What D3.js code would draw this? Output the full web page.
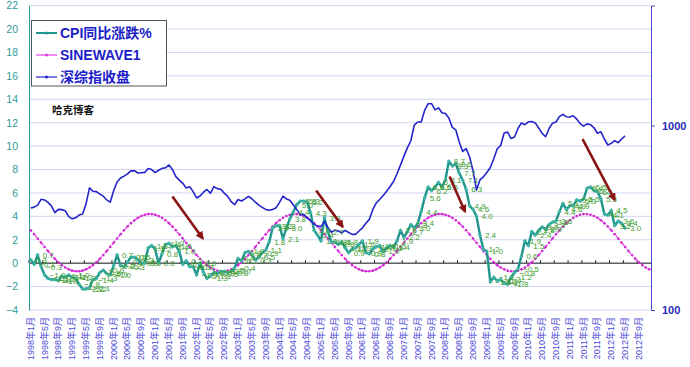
<!DOCTYPE html>
<html>
<head>
<meta charset="utf-8">
<script src="https://cdn.jsdelivr.net/npm/d3@7"></script>
<style>
  body { margin: 0; background: #fff; }
  svg { display: block; }
  .ytl text { fill: #2f9a9a; font: 10.5px "Liberation Sans", Arial, sans-serif; }
  .ytr text { fill: #2a2ab8; font: bold 11px "Liberation Sans", Arial, sans-serif; }
  .xlab { fill: #4a4ad8; font: 9px "Liberation Sans", "Noto Sans CJK SC", sans-serif; }
  .dlab { fill: #3c9c2c; font: 8px "Liberation Sans", Arial, sans-serif; }
  .legend text { fill: #1c1cc8; font: bold 14px "Liberation Sans", "Noto Sans CJK SC", sans-serif; }
</style>
</head>
<body>
<svg id="chart" width="690" height="367"></svg>
<script>
// CPI YoY % (monthly, 1998-01 .. 2012-05)
const cpi = [
  0.3, -0.1, 0.7, -0.3, -1.0, -1.3, -1.4, -1.4, -1.5, -1.1, -1.2, -1.0,
  -1.2, -1.3, -1.8, -2.2, -2.2, -2.1, -1.4, -1.3, -0.8, -0.6, -0.9, -1.0,
  -0.2, 0.7, -0.2, -0.3, 0.1, 0.5, 0.5, 0.3, 0.0, 0.0, 1.3, 1.5,
  1.2, 0.0, 0.8, 1.6, 1.7, 1.4, 1.5, 1.0, -0.1, 0.2, -0.3, -0.3,
  -1.0, 0.0, -0.8, -1.3, -1.1, -0.8, -0.9, -0.7, -0.7, -0.8, -0.7, -0.4,
  0.4, 0.2, 0.9, 1.0, 0.7, 0.3, 0.5, 0.9, 1.1, 1.8, 3.0, 3.2,
  3.2, 2.1, 3.0, 3.8, 4.4, 5.0, 5.3, 5.3, 5.2, 4.3, 2.8, 2.4,
  1.9, 3.9, 2.7, 1.8, 1.8, 1.6, 1.8, 1.3, 0.9, 1.2, 1.3, 1.6,
  1.9, 0.9, 0.8, 1.2, 1.4, 1.5, 1.0, 1.3, 1.5, 1.4, 1.9, 2.8,
  2.2, 2.7, 3.3, 3.0, 3.4, 4.4, 5.6, 6.5, 6.2, 6.5, 6.9, 6.5,
  7.1, 8.7, 8.3, 8.5, 7.7, 7.1, 6.3, 4.9, 4.6, 4.0, 2.4, 1.2,
  1.0, -1.6, -1.2, -1.5, -1.4, -1.7, -1.8, -1.2, -0.8, -0.5, 0.6, 1.9,
  1.5, 2.7, 2.4, 2.8, 3.1, 2.9, 3.3, 3.5, 3.6, 4.4, 5.1, 4.6,
  4.9, 4.9, 5.4, 5.3, 5.5, 6.4, 6.5, 6.2, 6.1, 5.5, 4.2, 4.1,
  4.5, 3.2, 3.6, 3.4, 3.0
];

// SINEWAVE1 (monthly, 1998-01 .. 2012-12)
const sinewave = [
  2.81, 2.47, 2.11, 1.75, 1.39, 1.03, 0.69, 0.37, 0.08, -0.17, -0.37, -0.53, -0.64, -0.69,
  -0.69, -0.64, -0.53, -0.37, -0.17, 0.08, 0.37, 0.69, 1.03, 1.39, 1.75, 2.11, 2.47, 2.81,
  3.13, 3.42, 3.67, 3.87, 4.03, 4.14, 4.19, 4.19, 4.14, 4.03, 3.87, 3.67, 3.42, 3.13,
  2.81, 2.47, 2.11, 1.75, 1.39, 1.03, 0.69, 0.37, 0.08, -0.17, -0.37, -0.53, -0.64, -0.69,
  -0.69, -0.64, -0.53, -0.37, -0.17, 0.08, 0.37, 0.69, 1.03, 1.39, 1.75, 2.11, 2.47, 2.81,
  3.13, 3.42, 3.67, 3.87, 4.03, 4.14, 4.19, 4.19, 4.14, 4.03, 3.87, 3.67, 3.42, 3.13,
  2.81, 2.47, 2.11, 1.75, 1.39, 1.03, 0.69, 0.37, 0.08, -0.17, -0.37, -0.53, -0.64, -0.69,
  -0.69, -0.64, -0.53, -0.37, -0.17, 0.08, 0.37, 0.69, 1.03, 1.39, 1.75, 2.11, 2.47, 2.81,
  3.13, 3.42, 3.67, 3.87, 4.03, 4.14, 4.19, 4.19, 4.14, 4.03, 3.87, 3.67, 3.42, 3.13,
  2.81, 2.47, 2.11, 1.75, 1.39, 1.03, 0.69, 0.37, 0.08, -0.17, -0.37, -0.53, -0.64, -0.69,
  -0.69, -0.64, -0.53, -0.37, -0.17, 0.08, 0.37, 0.69, 1.03, 1.39, 1.75, 2.11, 2.47, 2.81,
  3.13, 3.42, 3.67, 3.87, 4.03, 4.14, 4.19, 4.19, 4.14, 4.03, 3.87, 3.67, 3.42, 3.13,
  2.81, 2.47, 2.11, 1.75, 1.39, 1.03, 0.69, 0.37, 0.08, -0.17, -0.37, -0.53
];

// 深综指收盘 (monthly close, 1998-01 .. 2012-05), right log axis
const szIndex = [
  357, 361, 370, 398, 395, 383, 366, 337, 351, 350, 345, 321,
  312, 316, 327, 331, 375, 459, 440, 438, 425, 414, 395, 384,
  443, 494, 519, 532, 547, 568, 569, 553, 555, 557, 585, 577,
  556, 572, 586, 590, 611, 578, 528, 506, 486, 459, 466, 438,
  405, 415, 435, 450, 429, 466, 455, 451, 430, 413, 387, 372,
  397, 390, 400, 413, 401, 384, 370, 360, 351, 347, 351, 358,
  383, 414, 400, 393, 371, 350, 329, 330, 317, 304, 292, 285,
  283, 302, 280, 264, 271, 268, 262, 270, 263, 257, 257, 268,
  279, 295, 310, 351, 381, 397, 417, 440, 467, 497, 548, 610,
  682, 756, 827, 1006, 1045, 1045, 1209, 1313, 1313, 1215, 1247, 1174,
  1161, 1099, 977, 948, 814, 724, 750, 677, 567, 447, 507, 527,
  556, 592, 661, 748, 780, 911, 921, 850, 867, 963, 1033, 1010,
  1046, 1052, 1033, 970, 907, 869, 963, 1030, 1045, 1117, 1150, 1115,
  1112, 1130, 1084, 1024, 993, 1021, 1010, 972, 908, 924, 845, 784,
  800, 827, 808, 845, 878
];

const tickLabels = [
  '1998年1月', '1998年5月', '1998年9月', '1999年1月', '1999年5月', '1999年9月',
  '2000年1月', '2000年5月', '2000年9月', '2001年1月', '2001年5月', '2001年9月',
  '2002年1月', '2002年5月', '2002年9月', '2003年1月', '2003年5月', '2003年9月',
  '2004年1月', '2004年5月', '2004年9月', '2005年1月', '2005年5月', '2005年9月',
  '2006年1月', '2006年5月', '2006年9月', '2007年1月', '2007年5月', '2007年9月',
  '2008年1月', '2008年5月', '2008年9月', '2009年1月', '2009年5月', '2009年9月',
  '2010年1月', '2010年5月', '2010年9月', '2011年1月', '2011年5月', '2011年9月',
  '2012年1月', '2012年5月', '2012年9月'
];

const seriesNames = ['CPI同比涨跌%', 'SINEWAVE1', '深综指收盘'];
const leftTicks = [-4, -2, 0, 2, 4, 6, 8, 10, 12, 14, 16, 18, 20, 22];
const rightTicks = [100, 1000];

// arrows drawn on the chart: [month index, cpi value] from -> to
const arrows = [
  [[41, 5.7], [49.8, 2.1]],
  [[82.6, 6.2], [90.3, 3.1]],
  [[121.2, 7.4], [125.7, 4.4]],
  [[159.7, 10.6], [169, 5.4]]
];

// categories, one per month
let months = [];
for (let y = 1998; y <= 2012; y++) {
  for (let m = 1; m <= 12; m++) months.push(y + '年' + m + '月');
}

const svg = d3.select('#chart');
const plotLeft = 29, plotRight = 651, plotTop = 5.6, plotBottom = 310;

const x = d3.scaleBand().domain(months).range([plotLeft, plotRight]).padding(0);
const xc = (i) => x(months[i]) + x.bandwidth() / 2;
const idx = d3.scaleLinear().domain([0, 1]).range([xc(0), xc(1)]); // fractional month -> px
const yL = d3.scaleLinear().domain([-4, 22]).range([plotBottom, plotTop]);
const yR = d3.scaleLog().domain([100, 4467]).range([plotBottom, plotTop]);

// gridlines
svg.append('g').selectAll('line').data(leftTicks).join('line')
    .attr('x1', plotLeft).attr('x2', plotRight)
    .attr('y1', d => yL(d)).attr('y2', d => yL(d))
    .attr('stroke', '#d4d4f0').attr('stroke-width', 1);

// zero line + month ticks
svg.append('line').attr('x1', plotLeft).attr('x2', plotRight)
    .attr('y1', yL(0)).attr('y2', yL(0)).attr('stroke', '#222').attr('stroke-width', 1);
svg.append('g').selectAll('line').data(tickLabels).join('line')
    .attr('x1', d => x(d)).attr('x2', d => x(d))
    .attr('y1', yL(0)).attr('y2', yL(0) - 3)
    .attr('stroke', '#222');

// left axis
let axL = svg.append('g').attr('class', 'ytl').attr('transform', 'translate(' + plotLeft + ',0)')
    .call(d3.axisLeft(yL).tickValues(leftTicks).tickSize(0).tickPadding(11).tickFormat(d3.format('d')));
axL.select('.domain').attr('stroke', '#2f9a9a');

// right axis
let axR = svg.append('g').attr('class', 'ytr').attr('transform', 'translate(' + plotRight + ',0)')
    .call(d3.axisRight(yR).tickValues(rightTicks).tickSize(4).tickPadding(7).tickFormat(d3.format('d')));
axR.select('.domain').attr('stroke', '#4a4ac8');
axR.selectAll('.tick line').attr('stroke', '#4a4ac8');

// x labels
svg.append('g').selectAll('text').data(tickLabels).join('text')
    .attr('class', 'xlab')
    .attr('transform', d => 'translate(' + (x(d) + x.bandwidth() / 2 + 3) + ',317) rotate(-90)')
    .attr('text-anchor', 'end')
    .text(d => d);

// sine wave
const sineLine = d3.line().x((d, i) => xc(i)).y(d => yL(d));
svg.append('path').attr('d', sineLine(sinewave))
    .attr('fill', 'none').attr('stroke', '#e23ce2').attr('stroke-width', 1.5)
    .attr('stroke-dasharray', '2,1.5');
svg.append('g').selectAll('circle').data(sinewave).join('circle')
    .attr('cx', (d, i) => xc(i)).attr('cy', d => yL(d)).attr('r', 1.3)
    .attr('fill', '#d22ad2');

// CPI
const cpiLine = d3.line().x((d, i) => xc(i)).y(d => yL(d));
svg.append('path').attr('d', cpiLine(cpi))
    .attr('fill', 'none').attr('stroke', '#1f958c').attr('stroke-width', 2.4)
    .attr('stroke-linejoin', 'round');
svg.append('g').selectAll('rect').data(cpi).join('rect')
    .attr('x', (d, i) => xc(i) - 1.5).attr('y', d => yL(d) - 1.5)
    .attr('width', 3).attr('height', 3)
    .attr('transform', (d, i) => 'rotate(45,' + xc(i) + ',' + yL(d) + ')')
    .attr('fill', '#3fb3a6');

// Shenzhen index
const szLine = d3.line().x((d, i) => xc(i)).y(d => yR(d));
svg.append('path').attr('d', szLine(szIndex))
    .attr('fill', 'none').attr('stroke', '#2424cc').attr('stroke-width', 1.6)
    .attr('stroke-linejoin', 'round');

// CPI data labels
svg.append('g').selectAll('text').data(cpi).join('text')
    .attr('class', 'dlab')
    .attr('x', (d, i) => xc(i) + 5).attr('y', d => yL(d) + 3)
    .text(d => d3.format('.1f')(d));

// arrows
svg.append('defs').append('marker')
    .attr('id', 'ah').attr('viewBox', '0 0 10 10').attr('refX', 8).attr('refY', 5)
    .attr('markerWidth', 3.2).attr('markerHeight', 3.2).attr('orient', 'auto')
  .append('path').attr('d', 'M0,0 L10,5 L0,10 z').attr('fill', '#8a1414');
svg.append('g').selectAll('line').data(arrows).join('line')
    .attr('x1', d => idx(d[0][0])).attr('y1', d => yL(d[0][1]))
    .attr('x2', d => idx(d[1][0])).attr('y2', d => yL(d[1][1]))
    .attr('stroke', '#8a1414').attr('stroke-width', 2.6)
    .attr('marker-end', 'url(#ah)');

// legend
let lg = svg.append('g').attr('class', 'legend');
lg.append('rect').attr('x', 31.5).attr('y', 20.5).attr('width', 135).attr('height', 65.5)
    .attr('fill', '#fff').attr('stroke', '#555').attr('stroke-width', 1);
const legendColors = ['#1f958c', '#e23ce2', '#2424cc'];
seriesNames.forEach((name, i) => {
    let yy = 33 + i * 22;
    lg.append('line').attr('x1', 36).attr('x2', 57).attr('y1', yy).attr('y2', yy)
        .attr('stroke', legendColors[i]).attr('stroke-width', i === 0 ? 2 : 1.2);
    lg.append('circle').attr('cx', 46.5).attr('cy', yy).attr('r', 1.5).attr('fill', legendColors[i]);
    lg.append('text').attr('x', 60).attr('y', yy + 5).text(name);
});

// watermark
svg.append('text').attr('x', 52).attr('y', 114)
    .style('font', 'bold 10.5px "Noto Sans CJK SC", sans-serif').attr('fill', '#111')
    .text('哈克博客');
</script>
</body>
</html>
